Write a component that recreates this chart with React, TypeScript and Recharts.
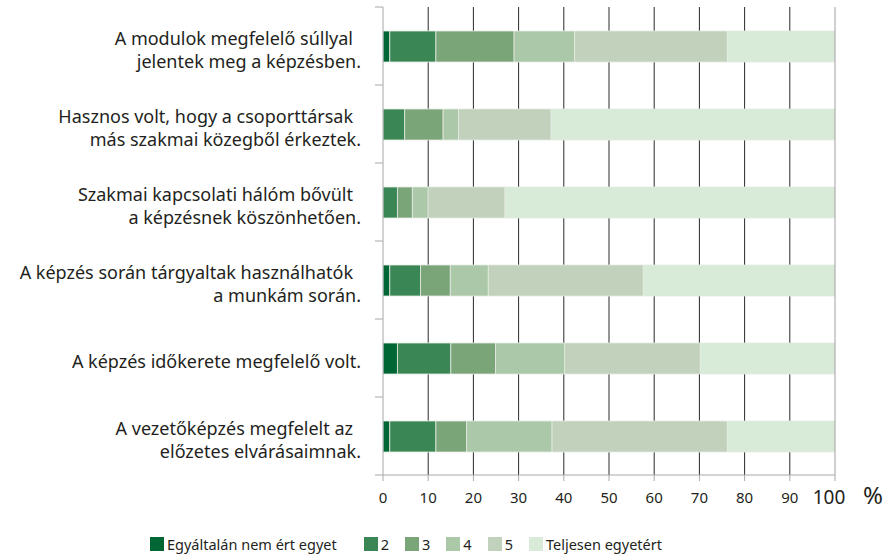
import React from "react";
import {
  BarChart,
  Bar,
  XAxis,
  YAxis,
  CartesianGrid,
  ReferenceLine,
  Legend,
} from "recharts";

const categories: string[][] = [
  ["A modulok megfelelő súllyal", "jelentek meg a képzésben."],
  ["Hasznos volt, hogy a csoporttársak", "más szakmai közegből érkeztek."],
  ["Szakmai kapcsolati hálóm bővült", "a képzésnek köszönhetően."],
  ["A képzés során tárgyaltak használhatók", "a munkám során."],
  ["A képzés időkerete megfelelő volt."],
  ["A vezetőképzés megfelelt az", "előzetes elvárásaimnak."],
];

const seriesNames = ["Egyáltalán nem ért egyet", "2", "3", "4", "5", "Teljesen egyetért"];
const s1 = [1.5, 0, 0, 1.5, 3.2, 1.5];
const s2 = [10.2, 4.8, 3.2, 6.8, 11.8, 10.2];
const s3 = [17.3, 8.5, 3.3, 6.6, 9.9, 6.8];
const s4 = [13.4, 3.4, 3.5, 8.4, 15.3, 18.9];
const s5 = [33.8, 20.5, 17.0, 34.3, 30.0, 38.8];
const s6 = [23.9, 62.8, 73.0, 42.4, 29.9, 23.9];
const xTicks = [0, 10, 20, 30, 40, 50, 60, 70, 80, 90, 100];

const COLORS = ["#006633", "#3a8654", "#79a579", "#abc8a8", "#c2d1bb", "#d8ead8"];
const FONT = "'Noto Sans', sans-serif";
const INK = "#231f20";
const AXIS = "#a8a8a8";

const W = 886;
const H = 555;
const MARGIN = { top: 7, right: 51, left: 0, bottom: 50 };
const X_AXIS_H = 30;
// height of one category band, used for the small boundary ticks on the y axis
const BAND = (H - MARGIN.top - MARGIN.bottom - X_AXIS_H) / categories.length;

const data = categories.map((lines, i) => ({
  name: lines.join(" "),
  lines,
  v1: s1[i],
  v2: s2[i],
  v3: s3[i],
  v4: s4[i],
  v5: s5[i],
  v6: s6[i],
}));

const CategoryTick = (props: any) => {
  const { x, y, payload, index } = props;
  const row = data.find((d) => d.name === payload.value);
  const lines = row ? row.lines : [payload.value];
  const lh = 23;
  const startY = y + 3 - ((lines.length - 1) * lh) / 2;
  const isLast = index === categories.length - 1;
  return (
    <g>
      <line x1={x} x2={x + 8} y1={y - BAND / 2} y2={y - BAND / 2} stroke={AXIS} />
      {isLast && (
        <line x1={x} x2={x + 8} y1={y + BAND / 2} y2={y + BAND / 2} stroke={AXIS} />
      )}
      <text
        x={x - 14}
        y={startY}
        textAnchor="end"
        dominantBaseline="central"
        fontFamily={FONT}
        fontSize={18}
        fill={INK}
      >
        {lines.map((l: string, i: number) => (
          <tspan
            key={i}
            x={x - 14 - (i < lines.length - 1 ? 8 : 0)}
            y={startY + i * lh}
          >
            {l}
          </tspan>
        ))}
      </text>
    </g>
  );
};

const ValueTick = (props: any) => {
  const { x, y, payload } = props;
  const big = payload.value === 100;
  return (
    <text
      x={big ? x - 6 : x}
      y={y + 14}
      textAnchor="middle"
      dominantBaseline="central"
      fontFamily={FONT}
      fontSize={big ? 19 : 15}
      fill={INK}
    >
      {payload.value}
    </text>
  );
};

const PercentLabel = (props: any) => {
  const vb = props.viewBox || {};
  return (
    <text
      x={(vb.x || 0) + (vb.width || 0) + 28}
      y={(vb.y || 0) + 19}
      dominantBaseline="central"
      fontFamily={FONT}
      fontSize={24}
      fill={INK}
    >
      %
    </text>
  );
};

const LegendContent = () => (
  <div
    style={{
      display: "flex",
      alignItems: "center",
      fontFamily: FONT,
      fontSize: 14.5,
      color: INK,
      whiteSpace: "nowrap",
      lineHeight: "18px",
    }}
  >
    {seriesNames.map((n, i) => (
      <div
        key={n}
        style={{
          display: "flex",
          alignItems: "center",
          marginRight: i === 0 ? 27 : 16,
        }}
      >
        <span
          style={{
            display: "inline-block",
            width: 14,
            height: 14,
            background: COLORS[i],
            marginRight: 3,
          }}
        />
        <span>{n}</span>
      </div>
    ))}
  </div>
);

const keys = ["v1", "v2", "v3", "v4", "v5", "v6"];

export default function App() {
  return (
    <div style={{ position: "absolute", left: 0, top: 0, width: W, height: H, background: "#fff" }}>
      <BarChart width={W} height={H} data={data} layout="vertical" margin={MARGIN}>
        <CartesianGrid
          yAxisId="cat"
          horizontal={false}
          vertical={true}
          verticalValues={[10, 20, 30, 40, 50, 60, 70, 80, 90]}
          stroke="#2a2a2a"
          strokeWidth={1}
        />
        <ReferenceLine yAxisId="cat" x={100} stroke="#a0a0a0" strokeWidth={1} />
        <XAxis
          type="number"
          domain={[0, 100]}
          ticks={xTicks}
          interval={0}
          allowDataOverflow
          axisLine={{ stroke: AXIS }}
          tickLine={{ stroke: AXIS }}
          tickSize={6}
          height={X_AXIS_H}
          tick={<ValueTick />}
          label={<PercentLabel />}
        />
        <YAxis
          yAxisId="cat"
          type="category"
          dataKey="name"
          width={383}
          axisLine={{ stroke: AXIS }}
          tickLine={false}
          tick={<CategoryTick />}
          interval={0}
        />
        {keys.map((k, i) => (
          <Bar
            key={k}
            yAxisId="cat"
            dataKey={k}
            name={seriesNames[i]}
            stackId="a"
            fill={COLORS[i]}
            stroke="#e4ebe2"
            strokeWidth={0.8}
            barSize={31}
            isAnimationActive={false}
          />
        ))}
        <Legend
          layout="vertical"
          align="center"
          verticalAlign="middle"
          content={<LegendContent />}
          wrapperStyle={{ left: 150, top: 535, width: 560, height: 18 }}
        />
      </BarChart>
    </div>
  );
}
